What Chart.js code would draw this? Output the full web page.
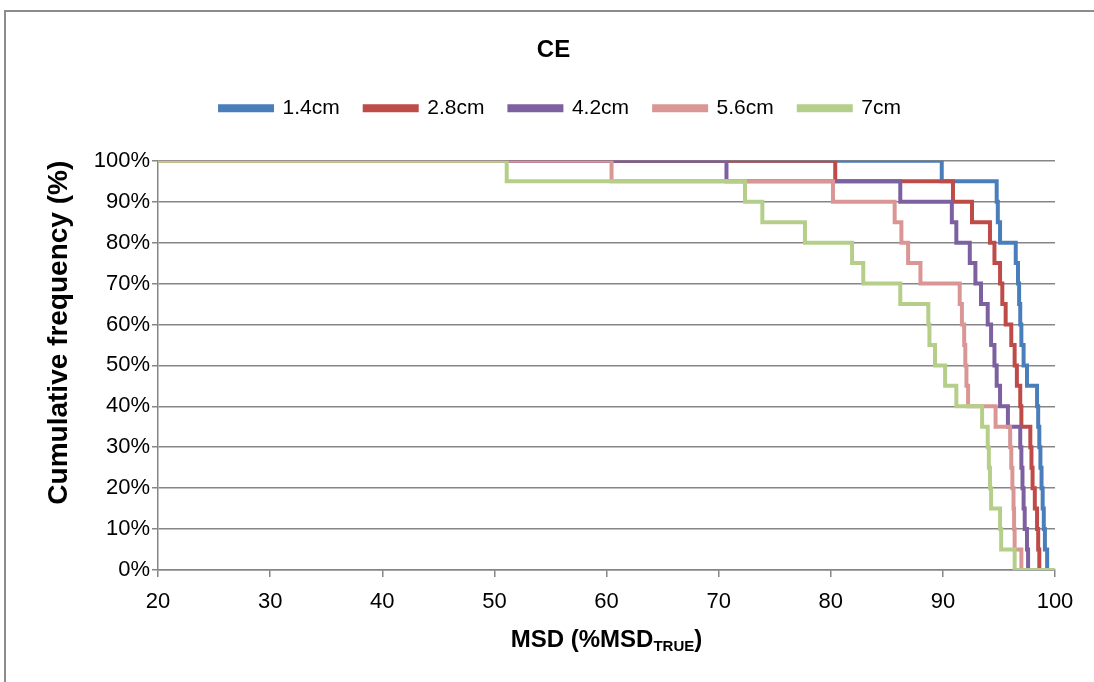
<!DOCTYPE html>
<html>
<head>
<meta charset="utf-8">
<script src="https://cdn.jsdelivr.net/npm/chart.js@4"></script>
<style>
  html, body { margin: 0; padding: 0; background: #fff; overflow: hidden; }
  #frame { position: absolute; left: 4px; top: 10px; width: 1200px; height: 800px; border: 2px solid #8c8c8c; }
  #wrap { position: absolute; left: 0; top: 0; width: 1094px; height: 682px; }
</style>
</head>
<body>
<div id="frame"></div>
<div id="wrap"><canvas id="chart" width="1094" height="682"></canvas></div>
<script>
const seriesNames = ['1.4cm', '2.8cm', '4.2cm', '5.6cm', '7cm'];
const seriesColors = ['#4A7EBB', '#BE4B48', '#7D60A0', '#D99694', '#B5CF8A'];

// cumulative frequency levels (%) shared by every curve
const cumFreq = [100, 95, 90, 85, 80, 75, 70, 65, 60, 55, 50, 45, 40, 35, 30, 25, 20, 15, 10, 5, 0, 0];

// MSD (%MSD true) where each curve reaches the level above
const msd14 = [20, 89.9, 94.8, 94.9, 95.1, 96.5, 96.7, 96.8, 96.9, 97.0, 97.2, 97.5, 98.4, 98.5, 98.6, 98.7, 98.8, 98.9, 99.0, 99.1, 99.3, 100];
const msd28 = [20, 80.4, 90.9, 92.6, 94.2, 94.6, 95.1, 95.3, 95.6, 96.1, 96.4, 96.6, 96.9, 97.0, 97.8, 97.9, 98.0, 98.2, 98.4, 98.5, 98.6, 100];
const msd42 = [20, 70.7, 86.2, 90.8, 91.2, 92.4, 92.9, 93.4, 94.0, 94.3, 94.6, 94.8, 95.1, 95.8, 96.9, 97.0, 97.1, 97.2, 97.3, 97.5, 97.6, 100];
const msd56 = [20, 60.45, 80.2, 85.7, 86.3, 86.9, 88.0, 91.5, 91.7, 91.9, 92.0, 92.1, 92.25, 94.7, 96.0, 96.1, 96.2, 96.3, 96.35, 96.4, 97.0, 100];
const msd70 = [20, 51.1, 72.35, 73.9, 77.7, 81.9, 82.9, 86.2, 88.7, 88.8, 89.3, 90.2, 91.2, 93.5, 94.0, 94.1, 94.2, 94.3, 95.1, 95.2, 96.4, 100];

const xTicks = [20, 30, 40, 50, 60, 70, 80, 90, 100];
const yTicks = [0, 10, 20, 30, 40, 50, 60, 70, 80, 90, 100];

const FONT = '"Liberation Sans", Arial, sans-serif';
const allMsd = [msd14, msd28, msd42, msd56, msd70];

const datasets = allMsd.map((xs, i) => ({
  label: seriesNames[i],
  data: xs.map((x, j) => ({ x: x, y: cumFreq[j] })),
  borderColor: seriesColors[i],
  backgroundColor: seriesColors[i],
  borderWidth: 4,
  stepped: 'before',
  pointRadius: 0,
  fill: false,
  order: allMsd.length - i   // later series drawn on top, like the original
}));

// extra space between legend and plot
const legendGap = {
  id: 'legendGap',
  beforeInit(chart) {
    const fit = chart.legend.fit;
    chart.legend.fit = function () {
      fit.call(this);
      this.height += 32;
    };
  },
  // original centres title/legend on a slightly wider frame
  afterLayout(chart) {
    const t = chart.titleBlock, l = chart.legend;
    t.left += 26; t.right += 26;
    l.left += 33; l.right += 33;
  }
};

// x axis title with subscript
const xTitle = {
  id: 'xTitle',
  afterDraw(chart) {
    const ctx = chart.ctx, area = chart.chartArea;
    const big = 'bold 24px ' + FONT, small = 'bold 15px ' + FONT;
    ctx.save();
    ctx.fillStyle = '#000';
    ctx.textBaseline = 'middle';
    ctx.textAlign = 'left';
    ctx.font = big;
    const w1 = ctx.measureText('MSD (%MSD').width;
    const w3 = ctx.measureText(')').width;
    ctx.font = small;
    const w2 = ctx.measureText('TRUE').width;
    let x = (area.left + area.right) / 2 - (w1 + w2 + w3) / 2;
    const y = area.bottom + 70;
    ctx.font = big;
    ctx.fillText('MSD (%MSD', x, y);
    x += w1;
    ctx.font = small;
    ctx.fillText('TRUE', x, y + 7);
    x += w2;
    ctx.font = big;
    ctx.fillText(')', x, y);
    ctx.restore();
  }
};

new Chart(document.getElementById('chart'), {
  type: 'line',
  data: { datasets: datasets },
  plugins: [legendGap, xTitle],
  options: {
    responsive: false,
    animation: false,
    devicePixelRatio: 1,
    layout: { padding: { left: 0, right: 39, top: 0, bottom: 0 } },
    plugins: {
      tooltip: { enabled: false },
      title: {
        display: true,
        text: 'CE',
        color: '#000',
        font: { family: FONT, size: 24, weight: 'bold' },
        padding: { top: 36, bottom: 8 }
      },
      legend: {
        display: true,
        position: 'top',
        labels: {
          color: '#000',
          font: { family: FONT, size: 21 },
          boxWidth: 52,
          boxHeight: 4,
          padding: 25,
          sort: (a, b) => a.datasetIndex - b.datasetIndex
        }
      }
    },
    scales: {
      x: {
        type: 'linear',
        min: 20,
        max: 100,
        afterBuildTicks: s => { s.ticks = xTicks.map(v => ({ value: v })); },
        afterFit: s => { s.height = 112; },
        ticks: { color: '#000', font: { family: FONT, size: 22 }, padding: 12 },
        grid: { display: true, drawOnChartArea: false, drawTicks: true, tickLength: 7, color: '#868686', lineWidth: 1.5 },
        border: { display: true, color: '#868686', width: 1.5 },
        title: { display: false }
      },
      y: {
        min: 0,
        max: 100,
        afterBuildTicks: s => { s.ticks = yTicks.map(v => ({ value: v })); },
        afterFit: s => { s.width = 158; },
        ticks: { color: '#000', font: { family: FONT, size: 22 }, padding: 2, callback: v => v + '%' },
        grid: { color: '#868686', lineWidth: 1.5, tickLength: 6 },
        border: { display: true, color: '#868686', width: 1.5 },
        title: {
          display: true,
          text: 'Cumulative frequency (%)',
          align: 'end',
          color: '#000',
          font: { family: FONT, size: 28, weight: 'bold' },
          padding: { top: 42, bottom: 0 }
        }
      }
    }
  }
});
</script>
</body>
</html>
